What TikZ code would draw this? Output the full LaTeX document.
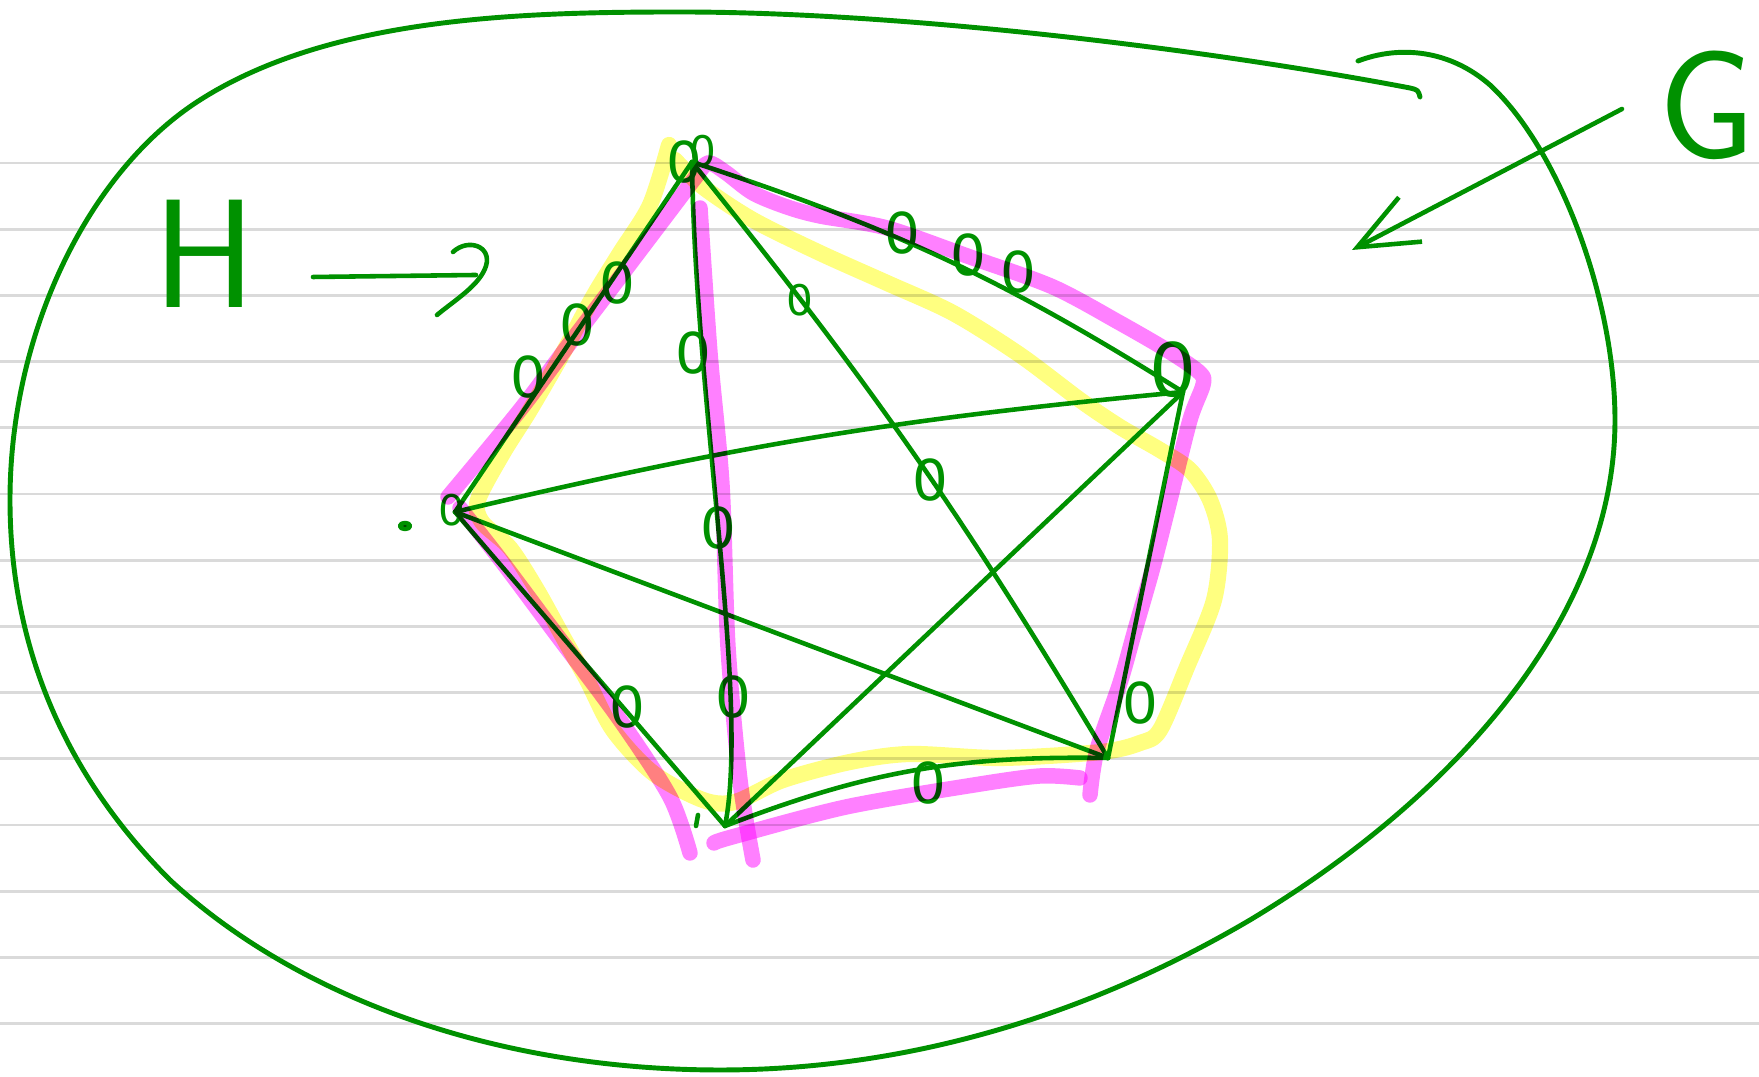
\documentclass[tikz,border=0pt]{standalone}
\usepackage{fontspec}
\usepackage{tikz}
\usetikzlibrary{arrows.meta}
\newfontfamily\zerofont{DejaVu Sans}
\definecolor{pen}{RGB}{0,145,0}
\definecolor{hlmagenta}{RGB}{255,128,255}
\definecolor{hlyellow}{RGB}{255,255,128}
\definecolor{rulegray}{RGB}{218,218,218}

\begin{document}
\begin{tikzpicture}[x=0.01cm, y=-0.01cm,
    pen/.style={draw=pen, line width=1.3pt, line cap=round, line join=round},
    hlmag/.style={draw=hlmagenta, line width=4.4pt, line cap=round, line join=round, blend mode=multiply},
    hlyel/.style={draw=hlyellow, line width=4.6pt, line cap=round, line join=round, blend mode=multiply},
    rule/.style={draw=rulegray, line width=0.8pt},
    zero/.style={text=pen, inner sep=0pt, font=\zerofont\fontsize{16}{16}\selectfont},
    zerosmall/.style={zero, font=\zerofont\fontsize{12}{12}\selectfont},
    zerobig/.style={zero, font=\zerofont\fontsize{21}{21}\selectfont},
    letter/.style={text=pen, inner sep=0pt, font=\sffamily\fontsize{44}{44}\selectfont}]

    \fill[white] (0,0) rectangle (1759,1077);
    \useasboundingbox (0,0) rectangle (1759,1077);

    % ruled paper
    \foreach \k in {0,...,13}
        \draw[rule] (0,163+66.2*\k) -- (1759,163+66.2*\k);

    % G, the big outline
    \draw[pen, line width=1.4pt] (1358,61) .. controls (1400,45) and (1450,50) .. (1490,85)
        .. controls (1560,150) and (1615,300) .. (1615,420)
        .. controls (1615,620) and (1450,800) .. (1250,920)
        .. controls (1080,1020) and (900,1070) .. (720,1070)
        .. controls (500,1070) and (300,1000) .. (170,880)
        .. controls (60,770) and (10,640) .. (10,500)
        .. controls (10,330) and (90,170) .. (200,100)
        .. controls (330,17) and (520,12) .. (680,12)
        .. controls (900,12) and (1200,48) .. (1410,88)
        .. controls (1418,90) .. (1420,97);

    \node[letter] (H) at (205,254) {H};
    \node[letter] (G) at (1707,105) {G};

    \coordinate (Hfrom) at (313,277);
    \coordinate (Hto) at (476,275);
    \draw[pen] (Hfrom) -- (Hto);
    \draw[pen] (453,252) .. controls (468,238) and (492,246) .. (486,266) .. controls (480,285) and (455,300) .. (437,315);

    \coordinate (Gfrom) at (1622,109);
    \coordinate (Gto) at (1352,250);
    \draw[pen, -{Straight Barb[length=0.6cm, width=0.5cm]}] (Gfrom) -- (Gto);

    % the five vertices
    \coordinate (A) at (692,162);
    \coordinate (B) at (455,512);
    \coordinate (C) at (725,826);
    \coordinate (D) at (1108,758);
    \coordinate (E) at (1183,392);

    \draw[pen] (A) -- (B);
    \draw[pen] (A) .. controls (695,400) and (750,700) .. (C);
    \draw[pen] (A) to[bend left=4] (D);
    \draw[pen] (A) to[bend left=7] (E);
    \draw[pen] (B) to[bend left=4] (E);
    \draw[pen] (B) -- (D);
    \draw[pen] (B) -- (C);
    \draw[pen] (C) to[bend left=11] (D);
    \draw[pen] (C) -- (E);
    \draw[pen] (D) -- (E);

    \node[zero] (za1) at (684,162) {0};
    \node[zerosmall] (za2) at (703,151) {0};
    \node[zerosmall] (zb) at (452,510) {0};
    \node[zerobig] (ze) at (1173,370) {0};
    \node[zero] (zab1) at (617,283) {0};
    \node[zero] (zab2) at (577,325) {0};
    \node[zero] (zab3) at (528,377) {0};
    \node[zero] (zac1) at (693,353) {0};
    \node[zero] (zac2) at (718,528) {0};
    \node[zero] (zac3) at (733,697) {0};
    \node[zerosmall] (zad1) at (800,300) {0};
    \node[zero] (zad2) at (930,480) {0};
    \node[zero] (zae1) at (902,233) {0};
    \node[zero] (zae2) at (968,255) {0};
    \node[zero] (zae3) at (1018,272) {0};
    \node[zero] (zbc) at (627,707) {0};
    \node[zero] (zcd) at (928,783) {0};
    \node[zero] (zde) at (1140,703) {0};

    \fill[pen] (405,526) ellipse [x radius=0.05cm, y radius=0.03cm];
    \draw[pen] (698,815) -- (696,826);

    % highlighter strokes
    \draw[hlyel] plot[smooth, tension=0.5] coordinates {(669,145) (650,205) (620,253) (593,297) (563,353) (530,410) (503,453) (478,500) (482,522) (510,548) (537,590) (563,637) (587,680) (613,730) (653,773) (703,800) (735,802) (783,780) (850,762) (910,754) (1000,758) (1101,752) (1140,743) (1160,730) (1187,667) (1214,600) (1220,540) (1210,500) (1190,470) (1160,450) (1120,427) (1080,400) (1020,355) (953,313) (887,283) (820,253) (753,220) (703,187) (675,160)};
    \draw[hlmag] plot[smooth, tension=0.5] coordinates {(448,497) (520,410) (570,343) (620,277) (673,207) (695,178) (708,163) (725,172) (753,193) (787,207) (820,216) (887,228) (970,257) (1053,287) (1120,323) (1170,352) (1200,373) (1203,385) (1190,420) (1170,500) (1153,567) (1135,630) (1120,683) (1097,750) (1090,795)};
    \draw[hlmag] plot[smooth, tension=0.5] coordinates {(1080,778) (1040,776) (974,785) (846,807) (732,837) (714,843)};
    \draw[hlmag] plot[smooth, tension=0.5] coordinates {(700,208) (710,353) (722,485) (728,647) (740,780) (753,860)};
    \draw[hlmag] plot[smooth, tension=0.5] coordinates {(460,508) (503,563) (553,630) (620,720) (670,797) (690,853)};
\end{tikzpicture}
\end{document}
